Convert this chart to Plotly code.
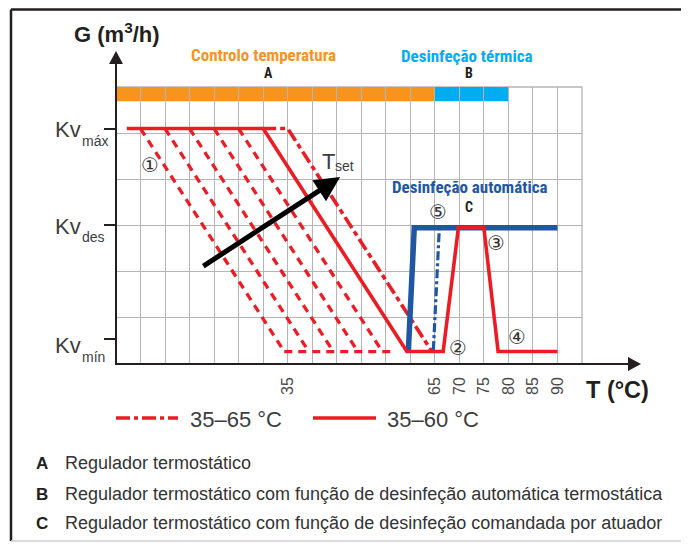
import plotly.graph_objects as go

# ---------------- data ----------------
# temperature in °C, flow G in grid units (Kv levels)
red_solid_T = [2.2, 30, 59.3, 66.7, 69.8, 75.0, 77.9, 90]
red_solid_G = [5.1, 5.1, 0.27, 0.27, 2.95, 2.95, 0.27, 0.27]

red_dashdot_T = [30, 35, 64.4]
red_dashdot_G = [5.1, 5.1, 0.27]

dashed_start_T = [5, 10, 15, 20, 25]
dashed_end_T = [34.3, 39.3, 44.3, 49.3, 54.3]
dashed_start_G = 5.1
dashed_end_G = 0.27
dashed_floor_T = [34.3, 57.0]
dashed_floor_G = [0.27, 0.27]

blue_solid_T = [59.6, 60.8, 90]
blue_solid_G = [0.28, 2.95, 2.95]
blue_dashdot_T = [64.7, 65.9]
blue_dashdot_G = [0.30, 2.92]

zone_start = [0, 65]
zone_end = [65, 80]
zone_bottom = 5.69
zone_top = 6.0
zone_titles = ["Controlo temperatura", "Desinfeção térmica"]
zone_letters = ["A", "B"]

tset_arrow_T = [17.5, 45.7]
tset_arrow_G = [2.1, 4.05]

x_tick_vals = [35, 65, 70, 75, 80, 85, 90]
y_tick_vals = [0.54, 3.02, 5.1]
y_tick_subs = ["mín", "des", "máx"]

legend_labels = ["35–65 °C", "35–60 °C"]
notes = [("A", "Regulador termostático"),
         ("B", "Regulador termostático com função de desinfeção automática termostática"),
         ("C", "Regulador termostático com função de desinfeção comandada por atuador")]

# ---------------- styling ----------------
OFF = 8                      # page body margin
W, H = 689 - OFF, 550 - OFF
PL, PT, PR, PB = 116, 87, 582, 364   # plot area in window pixels
L, T = PL - OFF, PT - OFF
R = W - (PR - OFF)
B = H - (PB - OFF)
PW, PH = PR - PL, PB - PT

def px(x):
    return (x - PL) / PW

def py(y):
    return (PB - y) / PH

RED = "#ec1c24"
BLUE = "#1f57a4"
ORANGE = "#f7941d"
CYAN = "#00aeef"
DARK = "#231f20"
GREY_TXT = "#3d3d3d"
GRID = "#b5b5b5"
BASE = "Liberation Sans, Arial, Helvetica, sans-serif"
COND = "Liberation Sans Narrow, Roboto Condensed, DejaVu Sans Condensed, Arial Narrow, Liberation Sans, sans-serif"

fig = go.Figure()

# dashed family
dx, dy = [], []
for s, e in zip(dashed_start_T, dashed_end_T):
    dx += [s, e, None]
    dy += [dashed_start_G, dashed_end_G, None]
dx += dashed_floor_T
dy += dashed_floor_G
fig.add_trace(go.Scatter(x=dx, y=dy, mode="lines", showlegend=False,
                         line=dict(color=RED, width=3.3, dash="8px,6px")))
fig.add_trace(go.Scatter(x=red_dashdot_T, y=red_dashdot_G, mode="lines", name=legend_labels[0],
                         showlegend=False, line=dict(color=RED, width=3.6, dash="13px,4px,5px,4px")))
fig.add_trace(go.Scatter(x=blue_solid_T, y=blue_solid_G, mode="lines", showlegend=False,
                         line=dict(color=BLUE, width=5.5)))
fig.add_trace(go.Scatter(x=blue_dashdot_T, y=blue_dashdot_G, mode="lines", showlegend=False,
                         line=dict(color=BLUE, width=3.2, dash="9px,3px,3px,3px")))
fig.add_trace(go.Scatter(x=red_solid_T, y=red_solid_G, mode="lines", name=legend_labels[1],
                         showlegend=False, line=dict(color=RED, width=3.6)))

shapes = []
# zone bands (under grid)
for s, e, c in zip(zone_start, zone_end, [ORANGE, CYAN]):
    shapes.append(dict(type="rect", xref="x", yref="y", x0=s, x1=e, y0=zone_bottom, y1=zone_top,
                       fillcolor=c, line=dict(width=0), layer="below"))
# grid border (top / right)
shapes.append(dict(type="rect", xref="paper", yref="paper", x0=0, x1=1, y0=0, y1=1,
                   line=dict(color=GRID, width=1.3), layer="below"))
# axes with arrows
shapes.append(dict(type="line", xref="paper", yref="paper", x0=0, x1=0, y0=py(PB + 1), y1=py(62),
                   line=dict(color=DARK, width=2)))
shapes.append(dict(type="path", xref="paper", yref="paper", fillcolor=DARK, line=dict(width=0),
                   path=f"M {px(109)},{py(64)} L {px(116)},{py(51)} L {px(123)},{py(64)} Z"))
shapes.append(dict(type="line", xref="paper", yref="paper", x0=px(PL - 1), x1=px(630), y0=0, y1=0,
                   line=dict(color=DARK, width=2)))
shapes.append(dict(type="path", xref="paper", yref="paper", fillcolor=DARK, line=dict(width=0),
                   path=f"M {px(628)},{py(357)} L {px(641)},{py(364)} L {px(628)},{py(371)} Z"))
# frame
FT = OFF + 1.5
shapes.append(dict(type="line", xref="paper", yref="paper", x0=px(11), x1=px(688), y0=py(FT), y1=py(FT),
                   line=dict(color=DARK, width=2.5)))
shapes.append(dict(type="line", xref="paper", yref="paper", x0=px(11), x1=px(11), y0=py(FT), y1=py(541),
                   line=dict(color=DARK, width=2.5)))
shapes.append(dict(type="line", xref="paper", yref="paper", x0=px(687.5), x1=px(687.5), y0=py(FT), y1=py(541),
                   line=dict(color="#555555", width=1.5)))
shapes.append(dict(type="line", xref="paper", yref="paper", x0=px(11), x1=px(688), y0=py(541), y1=py(541),
                   line=dict(color="#cfcfcf", width=1.5)))
# legend samples
shapes.append(dict(type="line", xref="paper", yref="paper", x0=px(116), x1=px(178), y0=py(418), y1=py(418),
                   line=dict(color=RED, width=3.6, dash="14px,4px,4px,4px")))
shapes.append(dict(type="line", xref="paper", yref="paper", x0=px(313), x1=px(376), y0=py(418), y1=py(418),
                   line=dict(color=RED, width=3.6)))

ann = []
def text(x, y, t, size, color, family=BASE, bold=False, xanchor="center"):
    ann.append(dict(x=px(x), y=py(y), xref="paper", yref="paper", text=(f"<b>{t}</b>" if bold else t),
                    showarrow=False, xanchor=xanchor, yanchor="middle",
                    font=dict(size=size, color=color, family=family)))

# axis titles
text(117, 33, "G (m<sup>3</sup>/h)", 22, DARK, bold=True)
text(617, 390, "T (°C)", 23.5, DARK, bold=True)

# zone titles
text(263, 55, zone_titles[0], 17, ORANGE, COND, bold=True)
text(268, 73, zone_letters[0], 14, DARK, COND, bold=True)
text(467, 56, zone_titles[1], 17, CYAN, COND, bold=True)
text(469, 73, zone_letters[1], 14, DARK, COND, bold=True)
text(470, 187, "Desinfeção automática", 17, BLUE, COND, bold=True)
text(469, 207, "C", 14, DARK, COND, bold=True)

# circled markers
CIRC = "DejaVu Serif, DejaVu Sans, serif"
text(150, 165, "①", 20, "#333333", CIRC)
text(458, 348, "②", 20, "#333333", CIRC)
text(496, 243, "③", 20, "#333333", CIRC)
text(517, 337, "④", 20, "#333333", CIRC)
text(438, 212, "⑤", 20, "#333333", CIRC)

# T_set label
text(337, 161, "T", 22, GREY_TXT, xanchor="right")
text(333, 166, "set", 14, GREY_TXT, xanchor="left")

# Kv labels
kv_label_y = {"máx": (129, 141), "des": (226, 237), "mín": (345.5, 357)}
for sub in y_tick_subs:
    a, b = kv_label_y[sub]
    text(83, a, "Kv", 22, GREY_TXT, xanchor="right")
    text(80, b, sub, 14, GREY_TXT, xanchor="left")

# legend texts
text(188, 419, legend_labels[0], 22, GREY_TXT, xanchor="left")
text(385, 419, legend_labels[1], 22, GREY_TXT, xanchor="left")

# notes
for (letter, desc), yy in zip(notes, [463, 494, 523]):
    text(42, yy, letter, 17, DARK, bold=True)
    text(63, yy, desc, 18, "#333333", xanchor="left")

# T_set arrow (tip at the second point, tail at the first)
ann.append(dict(x=tset_arrow_T[1], y=tset_arrow_G[1], ax=tset_arrow_T[0], ay=tset_arrow_G[0],
                xref="x", yref="y", axref="x", ayref="y", text="", showarrow=True,
                arrowhead=2, arrowsize=1, arrowwidth=5, arrowcolor="#000000", standoff=0))

fig.update_layout(
    width=W, height=H, autosize=False,
    margin=dict(l=L, r=R, t=T, b=B, pad=0),
    paper_bgcolor="white", plot_bgcolor="white",
    showlegend=False,
    shapes=shapes, annotations=ann,
    xaxis=dict(range=[0, 95], zeroline=False, showline=False, fixedrange=True,
               tickmode="array", tickvals=x_tick_vals, ticktext=[str(v) for v in x_tick_vals],
               tickangle=-90, ticks="", ticklabelstandoff=9,
               tickfont=dict(size=16, color="#4a4a4a", family=BASE),
               showgrid=True, gridcolor=GRID, gridwidth=1.3,
               minor=dict(tickmode="linear", tick0=0, dtick=5, showgrid=True,
                          gridcolor=GRID, gridwidth=1.3, ticks="")),
    yaxis=dict(range=[0, 6], zeroline=False, showline=False, fixedrange=True,
               tickmode="array", tickvals=y_tick_vals, showticklabels=False,
               ticks="outside", ticklen=11, tickwidth=1.6, tickcolor=DARK,
               showgrid=False,
               minor=dict(tickmode="linear", tick0=0, dtick=1, showgrid=True,
                          gridcolor=GRID, gridwidth=1.3, ticks="")),
)

fig.write_html("out.html")
